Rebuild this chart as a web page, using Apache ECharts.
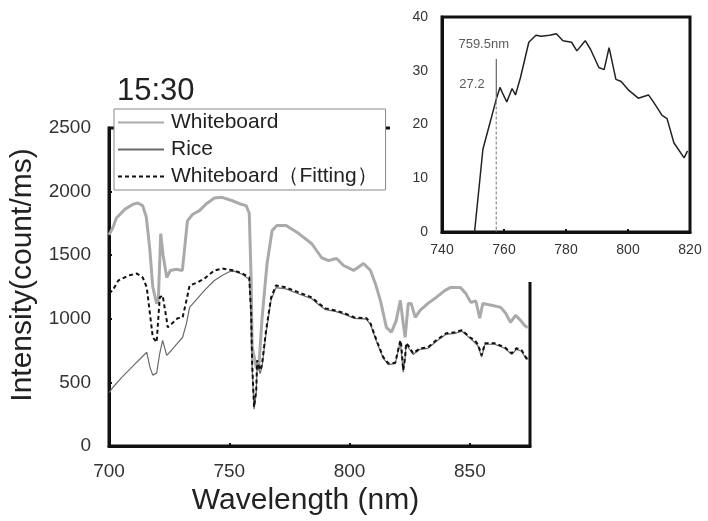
<!DOCTYPE html>
<html><head><meta charset="utf-8">
<script src="https://cdn.jsdelivr.net/npm/echarts@6/dist/echarts.min.js"></script>
<style>html,body{margin:0;padding:0;background:#fff}#c{width:708px;height:521px}</style>
</head><body><div id="c"></div>
<script>
// ---- data (wavelength nm, intensity count/ms) ----
const whiteboard = [[700,1660],[701.7,1720],[703,1790],[706.5,1860],[710,1900],[712,1910],[714,1890],[715.5,1800],[716.9,1560],[718.2,1250],[719.8,1120],[720.5,1150],[721.5,1670],[722.5,1500],[724,1325],[725.5,1380],[728,1390],[730.5,1380],[732.6,1770],[734.7,1820],[737.6,1850],[740.5,1905],[743.8,1950],[747,1955],[751,1930],[755,1900],[757,1890],[758.3,1830],[759.1,1300],[759.5,780],[761.2,620],[762.2,596],[763.6,1000],[765.7,1435],[767.8,1693],[769.8,1733],[773.6,1733],[778.9,1670],[784.3,1590],[788.4,1480],[791.3,1458],[794.6,1474],[797.5,1419],[801.7,1380],[805.8,1435],[808.7,1380],[810.7,1278],[812.8,1145],[815.3,933],[817.4,894],[819.4,988],[821.1,1145],[822.3,964],[823.1,855],[824.4,1121],[825.6,1121],[827.3,1011],[829.3,1066],[832.6,1121],[836,1168],[839.7,1223],[842,1247],[846,1247],[848.3,1200],[850.4,1129],[852.5,1140],[854.1,1004],[855.4,1121],[859.5,1105],[862.8,1090],[864.9,1043],[866.9,972],[869,1027],[871.1,988],[872.7,949],[874,930]];
const rice = [[700,420],[701.7,462],[705.4,541],[709.5,620],[713.6,698],[715.7,737],[717,620],[718.2,557],[719.8,573],[721.1,729],[722.3,831],[724,713],[726,753],[728.5,808],[730.6,855],[732.2,964],[733.5,1090],[736.8,1160],[739.7,1223],[743.8,1301],[747,1340],[750,1370],[752,1375],[755.4,1350],[758.3,1310],[759.1,1000],[759.5,620],[760.3,290],[761.2,420],[761.6,650],[762.8,570],[763.6,620],[765.3,890],[767.4,1150],[769.4,1245],[773.6,1235],[778.9,1195],[784.3,1158],[787.2,1110],[790,1072],[794.1,1058],[798,1035],[802,1003],[807,998],[808.7,955],[811.2,822],[814,690],[816.1,640],[819,648],[821.1,820],[822.3,580],[823.1,690],[823.5,800],[826.4,720],[829.3,760],[832.6,768],[836,822],[840.1,878],[843.8,886],[846.7,902],[850,848],[853.3,790],[854.9,700],[856.3,800],[860.3,800],[864.5,768],[867.4,720],[869.4,760],[871.5,745],[873.5,680],[874.5,690]];
const fitting = [[700,1200],[701.5,1223],[703.8,1300],[708,1340],[711.6,1356],[714,1325],[715.7,1247],[717,1043],[718.2,855],[719.8,815],[721.1,1168],[722.3,1184],[724,988],[724.4,933],[726,960],[728.5,1004],[730.6,1011],[732.2,1145],[733.5,1262],[736.8,1286],[739.7,1317],[743.8,1380],[747,1395],[752,1380],[755.4,1356],[758.3,1325],[759.1,1043],[759.5,650],[760.3,306],[761.2,439],[761.6,674],[762.8,596],[763.6,640],[765.3,910],[767.4,1168],[769.4,1262],[773.6,1247],[778.9,1207],[784.3,1168],[787.2,1121],[790,1082],[794.1,1066],[798,1043],[802,1011],[807,1005],[808.7,964],[811.2,831],[814,698],[816.1,650],[819,655],[821.1,831],[821.5,790],[822.3,596],[823.1,698],[823.5,808],[824.4,790],[826.4,729],[829.3,768],[832.6,776],[836,831],[840.1,886],[843.8,894],[846.7,910],[850,855],[852,831],[853.3,800],[854.9,713],[856.3,808],[860.3,808],[864.5,776],[867.4,729],[869.4,768],[871.5,753],[873.5,690],[874.5,700]];
// inset: ratio spectrum
const insetCurve = [[750.5,0],[753.2,15.4],[757.6,24.9],[758.7,26.9],[759.8,25.5],[760.9,24.2],[762.6,26.7],[763.7,25.5],[765.3,28.7],[768,35.3],[770.3,36.6],[772,36.4],[774.7,36.6],[776.9,36.9],[779,35.6],[781.8,35.3],[783.5,33.7],[786.2,35.6],[787.9,34],[790.6,30.6],[792.3,30.2],[793.9,34.3],[796.1,28.4],[797.8,28],[800,26.5],[803.3,24.9],[806.6,25.5],[808.2,24.2],[811,21.7],[812.6,21.1],[814.8,16.6],[818.1,13.8],[819.2,15.1]];
const annotSolid = [[757.5,32.2],[757.5,25.2]];
const annotDashed = [[757.5,25.2],[757.5,0]];
const annotLabels = [{name:'759.5nm', value:[745.3,34.9]}, {name:'27.2', value:[745.6,27.4]}];
const mainXTicks = [700, 875, 50];
const mainYTicks = [0, 2500, 500];
const insetXTicks = [740, 820, 20];
const insetYTicks = [0, 40, 10];
const names = ['Whiteboard', 'Rice', 'Whiteboard（Fitting）'];

const FONT = 'Liberation Sans, Arial, sans-serif';
const plain = v => String(v);
const chart = echarts.init(document.getElementById('c'), null, {renderer:'canvas'});
chart.setOption({
  animation:false,
  backgroundColor:'#fff',
  textStyle:{fontFamily:FONT},
  title:{text:'15:30', left:117, top:76, padding:0, textStyle:{fontFamily:FONT, fontSize:31, fontWeight:'normal', color:'#222'}},
  legend:{
    data:names, orient:'vertical', left:114, top:109, padding:[3,8,3,3], itemGap:6,
    itemWidth:46, itemHeight:14, backgroundColor:'#fff', borderColor:'#888', borderWidth:1,
    itemStyle:{opacity:0, borderWidth:0},
    textStyle:{fontFamily:FONT, fontSize:21, color:'#222', padding:[0,0,0,2]}, z:4
  },
  grid:[
    {left:109, right:178, top:128, bottom:75, show:true, borderColor:'#111', borderWidth:3, backgroundColor:'transparent', containLabel:false, outerBoundsMode:'none'},
    {left:442, right:18, top:17, bottom:289, show:true, borderColor:'#111', borderWidth:3, backgroundColor:'#fff', z:10, containLabel:false, outerBoundsMode:'none'}
  ],
  graphic:[{type:'rect', shape:{x:390, y:0, width:318, height:282}, style:{fill:'#fff'}, z:5, silent:true}],
  xAxis:[
    {type:'value', gridIndex:0, min:mainXTicks[0], max:mainXTicks[1], interval:mainXTicks[2],
     name:'Wavelength (nm)', nameLocation:'middle', nameGap:38,
     nameTextStyle:{fontFamily:FONT, fontSize:30, color:'#222', padding:[0,28,0,0]},
     axisLine:{lineStyle:{color:'#111', width:3}}, axisTick:{inside:true, length:3, lineStyle:{color:'#111', width:2}},
     axisLabel:{fontFamily:FONT, fontSize:19, color:'#333', margin:16, showMaxLabel:false, formatter:plain}, splitLine:{show:false}},
    {type:'value', gridIndex:1, min:insetXTicks[0], max:insetXTicks[1], interval:insetXTicks[2], z:10,
     axisLine:{lineStyle:{color:'#111', width:3}}, axisTick:{inside:true, length:3, lineStyle:{color:'#111', width:2}},
     axisLabel:{fontFamily:FONT, fontSize:14, color:'#333', margin:11, formatter:plain}, splitLine:{show:false}}
  ],
  yAxis:[
    {type:'value', gridIndex:0, min:mainYTicks[0], max:mainYTicks[1], interval:mainYTicks[2],
     name:'Intensity(count/ms)', nameLocation:'middle', nameGap:66, nameRotate:90,
     nameTextStyle:{fontFamily:FONT, fontSize:30, color:'#222', padding:[0,0,0,24]},
     axisLine:{lineStyle:{color:'#111', width:3}}, axisTick:{inside:true, length:3, lineStyle:{color:'#111', width:2}},
     axisLabel:{fontFamily:FONT, fontSize:19, color:'#333', margin:18, formatter:plain}, splitLine:{show:false}},
    {type:'value', gridIndex:1, min:insetYTicks[0], max:insetYTicks[1], interval:insetYTicks[2], z:10,
     axisLine:{lineStyle:{color:'#111', width:3}}, axisTick:{show:false},
     axisLabel:{fontFamily:FONT, fontSize:14, color:'#333', margin:14, formatter:plain}, splitLine:{show:false}}
  ],
  series:[
    {name:names[0], type:'line', xAxisIndex:0, yAxisIndex:0, data:whiteboard, symbol:'none', z:2,
     lineStyle:{color:'#aaaaaa', width:3}, itemStyle:{color:'#aaaaaa'}},
    {name:names[1], type:'line', xAxisIndex:0, yAxisIndex:0, data:rice, symbol:'none', z:3,
     lineStyle:{color:'#6a6a6a', width:1.2}, itemStyle:{color:'#6a6a6a'}},
    {name:names[2], type:'line', xAxisIndex:0, yAxisIndex:0, data:fitting, symbol:'none', z:4,
     lineStyle:{color:'#111', width:2, type:[4,3]}, itemStyle:{color:'#111'}},
    {type:'line', xAxisIndex:1, yAxisIndex:1, data:insetCurve, symbol:'none', z:11,
     lineStyle:{color:'#222', width:1.5}},
    {type:'line', xAxisIndex:1, yAxisIndex:1, data:annotSolid, symbol:'none', z:11,
     lineStyle:{color:'#444', width:1}},
    {type:'line', xAxisIndex:1, yAxisIndex:1, data:annotDashed, symbol:'none', z:11,
     lineStyle:{color:'#888', width:1.2, type:[3,2]}},
    {type:'scatter', xAxisIndex:1, yAxisIndex:1, data:annotLabels, symbolSize:0, z:12,
     label:{show:true, position:'right', distance:0, formatter:p=>p.name, fontFamily:FONT, fontSize:13, color:'#333'}}
  ]
});
</script></body></html>
